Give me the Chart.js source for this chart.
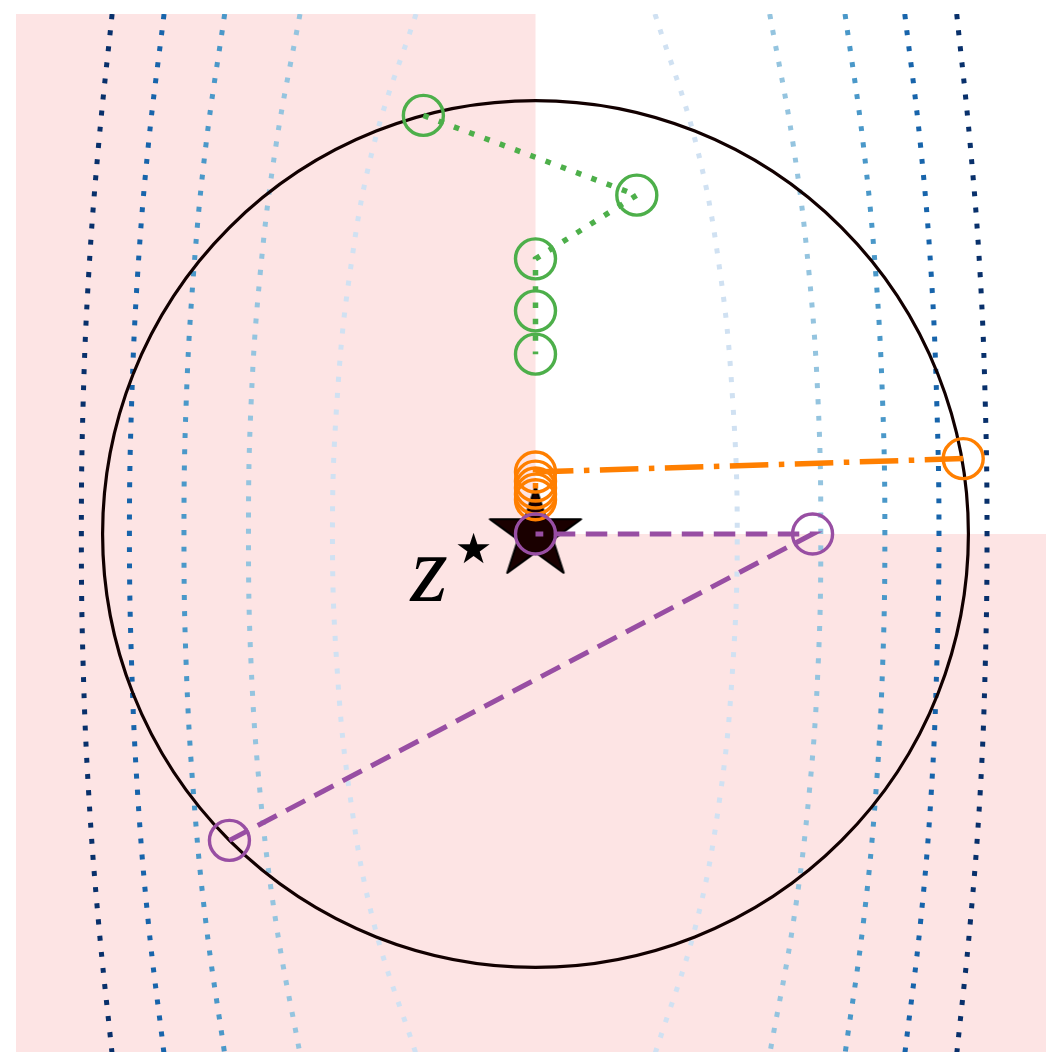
<!DOCTYPE html>
<html>
<head>
<meta charset="utf-8">
<script src="https://cdn.jsdelivr.net/npm/chart.js@4.4.0/dist/chart.umd.min.js"></script>
<style>
  html, body { margin: 0; padding: 0; background: #fff; overflow: hidden; }
  #plot { position: absolute; left: 16px; top: 14px; }
</style>
</head>
<body>
<canvas id="plot" width="1039" height="1040"></canvas>
<script>
// level curves: sampled at these heights, five on each side (light = inner, dark = outer)
const contourY = [1.2, 0.9, 0.6, 0.3, 0, -0.3, -0.6, -0.9, -1.2];
const leftA  = [-0.276, -0.373, -0.429, -0.459, -0.469, -0.459, -0.429, -0.373, -0.276];
const leftB  = [-0.544, -0.599, -0.636, -0.657, -0.663, -0.657, -0.636, -0.599, -0.544];
const leftC  = [-0.718, -0.761, -0.790, -0.807, -0.812, -0.807, -0.790, -0.761, -0.718];
const leftD  = [-0.858, -0.894, -0.919, -0.933, -0.938, -0.933, -0.919, -0.894, -0.858];
const leftE  = [-0.978, -1.009, -1.032, -1.045, -1.049, -1.045, -1.032, -1.009, -0.978];
const rightA = [0.276, 0.371, 0.427, 0.456, 0.466, 0.456, 0.427, 0.371, 0.276];
const rightB = [0.541, 0.595, 0.632, 0.653, 0.659, 0.653, 0.632, 0.595, 0.541];
const rightC = [0.715, 0.757, 0.786, 0.802, 0.807, 0.802, 0.786, 0.757, 0.715];
const rightD = [0.853, 0.889, 0.914, 0.927, 0.932, 0.927, 0.914, 0.889, 0.853];
const rightE = [0.973, 1.004, 1.027, 1.039, 1.043, 1.039, 1.027, 1.004, 0.973];
const levelColors = ['#d0e1f2', '#94c4df', '#4a98c9', '#1764ab', '#08306b'];

// shaded feasible region boundary (filled down to the bottom of the axes)
const regionX = [-1.2, 0, 0, 1.2];
const regionY = [1.2, 1.2, 0, 0];

// iterate paths
const greenX = [-0.259, 0.234, 0.0, 0.0, 0.0];
const greenY = [0.966, 0.782, 0.635, 0.515, 0.415];
const orangeX = [0.988, 0.0, 0.0, 0.0, 0.0, 0.0];
const orangeY = [0.174, 0.143, 0.122, 0.106, 0.092, 0.079];
const purpleX = [-0.707, 0.640, 0.0];
const purpleY = [-0.707, 0.0, 0.0];

// optimum and the unit ball around it
const optX = 0, optY = 0;
const ballRadius = 1;

const toPoints = (xs, ys) => xs.map((x, i) => ({ x: x, y: ys[i] }));

function starImage(r, fill, edge) {
  const size = Math.ceil(2 * r + 6);
  const c = document.createElement('canvas');
  c.width = size; c.height = size;
  const g = c.getContext('2d');
  g.translate(size / 2, size / 2);
  g.beginPath();
  for (let i = 0; i < 10; i++) {
    const rr = i % 2 ? r * 0.382 : r;
    const a = -Math.PI / 2 + i * Math.PI / 5;
    g.lineTo(rr * Math.cos(a), rr * Math.sin(a));
  }
  g.closePath();
  g.fillStyle = fill;
  g.fill();
  g.lineJoin = 'round';
  g.lineWidth = 2;
  g.strokeStyle = edge;
  g.stroke();
  return c;
}

function contour(xs, color) {
  return {
    data: toPoints(xs, contourY),
    showLine: true,
    borderColor: color,
    borderWidth: 5,
    borderDash: [5, 11.2],
    borderCapStyle: 'butt',
    tension: 0.4,
    pointRadius: 0,
    fill: false,
    order: 20
  };
}

function path(xs, ys, color, dash, width, order) {
  return {
    data: toPoints(xs, ys),
    showLine: true,
    borderColor: color,
    borderWidth: width,
    borderDash: dash,
    tension: 0,
    pointRadius: 20,
    pointBorderWidth: 3.4,
    pointBorderColor: color,
    pointBackgroundColor: 'rgba(0,0,0,0)',
    fill: false,
    order: order
  };
}

const datasets = [
  path(purpleX, purpleY, '#984ea3', [21.5, 10.5], 5, 1),
  path(orangeX, orangeY, '#ff7f00', [38.5, 10.5, 5.5, 10.5], 5.5, 2),
  path(greenX, greenY, '#4daf4a', [5.5, 10.8], 5.5, 3),
  {
    data: [{ x: optX, y: optY }],
    pointStyle: starImage(48, '#1a0000', '#000000'),
    pointRadius: 48,
    order: 5
  },
  {
    data: toPoints(regionX, regionY),
    showLine: true,
    borderColor: 'rgba(0,0,0,0)',
    borderWidth: 0,
    pointRadius: 0,
    tension: 0,
    backgroundColor: '#fde4e4',
    fill: 'start',
    order: 30
  }
];
[leftA, leftB, leftC, leftD, leftE].forEach((xs, i) => datasets.push(contour(xs, levelColors[i])));
[rightA, rightB, rightC, rightD, rightE].forEach((xs, i) => datasets.push(contour(xs, levelColors[i])));
const starIndex = 3;

// unit ball drawn just before the star, via the chart's own scales
const ballPlugin = {
  id: 'ball',
  beforeDatasetDraw(chart, args) {
    if (args.index !== starIndex) return;
    const { ctx, scales: { x, y } } = chart;
    const cx = x.getPixelForValue(optX);
    const cy = y.getPixelForValue(optY);
    const rx = x.getPixelForValue(optX + ballRadius) - cx;
    const ry = cy - y.getPixelForValue(optY + ballRadius);
    ctx.save();
    ctx.beginPath();
    ctx.ellipse(cx, cy, rx, ry, 0, 0, Math.PI * 2);
    ctx.lineWidth = 3.2;
    ctx.strokeStyle = '#120000';
    ctx.stroke();
    ctx.restore();
  }
};

// "z*" next to the optimum
const labelPlugin = {
  id: 'optLabel',
  afterDatasetsDraw(chart) {
    const { ctx, scales: { x, y } } = chart;
    const px = x.getPixelForValue(optX);
    const py = y.getPixelForValue(optY);
    ctx.save();
    ctx.fillStyle = '#000';
    ctx.textAlign = 'left';
    ctx.textBaseline = 'alphabetic';
    ctx.font = 'italic 96px "Liberation Serif"';
    ctx.fillText('z', px - 125, py + 67);
    ctx.textAlign = 'center';
    ctx.textBaseline = 'middle';
    ctx.font = '42px "DejaVu Sans"';
    ctx.fillText('\u2605', px - 62, py + 18);
    ctx.restore();
  }
};

new Chart(document.getElementById('plot'), {
  type: 'scatter',
  data: { datasets: datasets },
  options: {
    responsive: false,
    animation: false,
    events: [],
    layout: { padding: 0, autoPadding: false },
    scales: {
      x: { type: 'linear', min: -1.2, max: 1.2, display: false },
      y: { type: 'linear', min: -1.2, max: 1.2, display: false }
    },
    plugins: { legend: { display: false }, tooltip: { enabled: false } }
  },
  plugins: [ballPlugin, labelPlugin]
});
</script>
</body>
</html>
